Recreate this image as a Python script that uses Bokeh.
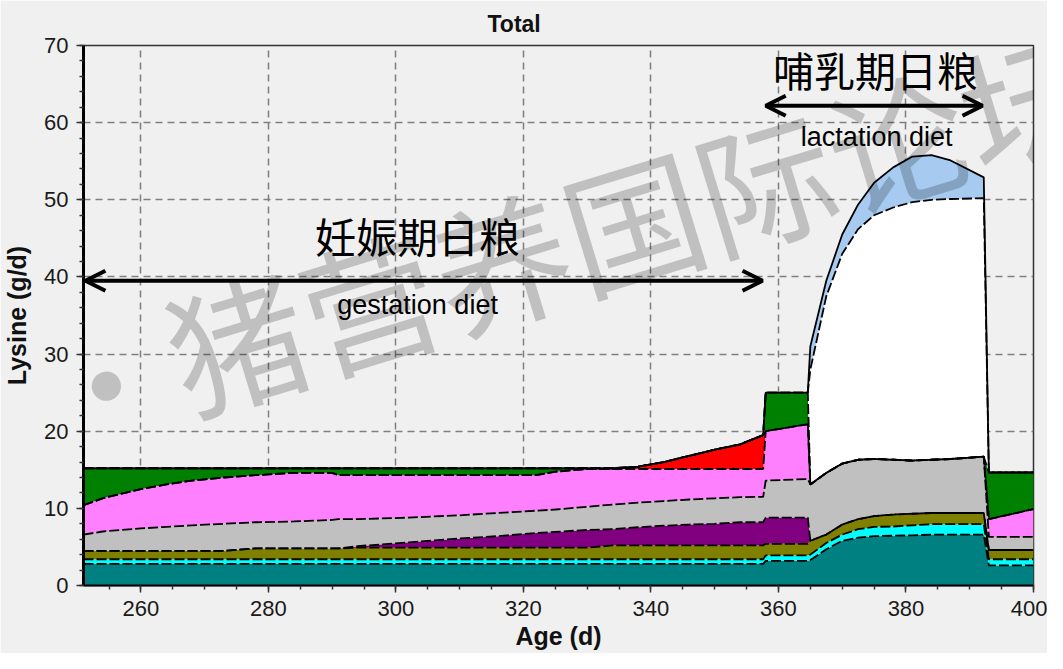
import numpy as np
from bokeh.plotting import figure
from bokeh.models import Range1d, SingleIntervalTicker, Arrow, OpenHead, Label, ColumnDataSource
from bokeh.embed import file_html
from bokeh.resources import INLINE

# ---------------- data ----------------
age = [251, 254, 257, 260, 264, 268, 273, 278, 284, 290, 291, 294, 302, 310, 316, 322, 325, 330,
       334, 338, 342, 346, 350, 354, 357.6, 358.0, 364.6, 365.0, 367.5, 370, 372.5, 375, 378,
       381, 384, 387, 392.2, 393.0, 400]

# stacked components of lysine requirement (g/d), bottom to top
teal_part = [2.8] * 25 + [3.2, 3.2, 3.3, 4.7, 5.8, 6.2, 6.4, 6.45, 6.5, 6.6, 6.6, 6.6, 2.6, 2.6]
cyan_part = [0.6] * 25 + [0.7, 0.7, 0.7, 0.8, 0.8, 1.1, 1.2, 1.2, 1.3, 1.35, 1.35, 1.35, 0.8, 0.8]
olive_part = [1.1] * 7 + [1.4] * 4 + [1.5] * 7 + [1.8] * 7 + \
    [1.5, 1.5, 1.8, 1.1, 1.3, 1.3, 1.4, 1.55, 1.5, 1.45, 1.45, 1.45, 1.2, 1.2]
purple_part = [0] * 11 + [0.2, 0.7, 1.2, 1.5, 1.9, 2.05, 2.3, 2.1, 2.35, 2.55, 2.7, 2.8, 3.0, 3.0,
                          3.4, 3.4] + [0] * 12
gray_part = [2.1, 2.5, 2.7, 2.9, 3.1, 3.3, 3.5, 3.4, 3.5, 3.7, 3.8, 3.5, 3.2, 3.0, 3.0, 2.9, 2.9,
             3.0, 3.2, 3.2, 3.2, 3.25, 3.3, 3.25, 3.3, 4.8, 5.0, 7.3, 8.0, 7.9, 7.7, 7.4, 7.1,
             6.9, 6.9, 7.0, 7.3, 1.7, 1.7]
pink_part = [3.8, 4.3, 4.7, 5.1, 5.5, 5.8, 6.0, 6.1, 6.3, 6.1, 5.7, 5.7, 5.5, 5.2, 4.9, 4.6, 4.9,
             4.9, 4.6, 4.35, 4.15, 3.95, 3.8, 3.65, 3.6, 6.4, 7.1] + [0] * 10 + [2.3, 3.6]
red_part = [0] * 19 + [0.3, 0.9, 1.7, 2.5, 3.2, 4.4] + [0] * 14
green_part = [4.8, 3.9, 3.3, 2.7, 2.1, 1.6, 1.2, 0.9, 0.6, 0.6, 0.9, 0.9, 0.9, 0.9, 0.9, 0.9, 0.45,
              0.1, 0.1, 0, 0, 0, 0, 0, 0, 5.0, 4.1] + [0] * 10 + [6.05, 4.75]
white_part = [0] * 27 + [14.9, 22.9, 27.2, 29.9, 31.6, 32.7, 33.5, 33.7, 33.7, 33.5, 0, 0]
blue_part = [0] * 27 + [3.0, 2.0, 2.5, 3.2, 4.2, 5.2, 5.9, 5.8, 5.0, 2.7, 0, 0]

layer_names = ["teal", "cyan", "olive", "purple", "gray", "pink", "red", "green", "white", "blue"]
layer_values = [teal_part, cyan_part, olive_part, purple_part, gray_part, pink_part,
                red_part, green_part, white_part, blue_part]
layer_colors = ["#008080", "#00ffff", "#808000", "#800080", "#c0c0c0", "#ff80ff",
                "#ff0000", "#008000", "#ffffff", "#a6caf0"]

x_ticks_interval = 20
y_ticks_interval = 10

# texts
title_text = "Total"
gest_cn, gest_en = "妊娠期日粮", "gestation diet"
lact_cn, lact_en = "哺乳期日粮", "lactation diet"
watermark = "国·猪营养国际论坛"

# ---------------- figure ----------------
p = figure(width=1047, height=653, x_range=Range1d(251, 400), y_range=Range1d(0, 70),
           output_backend="svg", toolbar_location=None, title=title_text,
           min_border_left=83, min_border_right=14, min_border_top=45, min_border_bottom=68,
           background_fill_color="#f0f0f0", border_fill_color="#f0f0f0")

p.title.align = "left"
p.title.offset = 404
p.title.vertical_align = "bottom"
if "standoff" in p.title.properties():
    p.title.standoff = 17
p.title.text_font = "Liberation Sans"
p.title.text_font_size = "23px"
p.title.text_font_style = "bold"
p.title.text_color = "#111111"

data = {"age": age}
for n, v in zip(layer_names, layer_values):
    data[n] = v
source = ColumnDataSource(data)

p.varea_stack(stackers=layer_names, x="age", color=layer_colors, source=source)

tops = np.cumsum(np.array(layer_values, dtype=float), axis=0)
for i, t in enumerate(tops):
    p.line(age, t, line_color="black", line_width=1.8,
           line_dash="solid" if i == len(tops) - 1 else "10 3")

# axes
xt = SingleIntervalTicker(interval=x_ticks_interval, num_minor_ticks=4)
yt = SingleIntervalTicker(interval=y_ticks_interval, num_minor_ticks=5)
p.xaxis.ticker = xt
p.yaxis.ticker = yt
p.xgrid.ticker = xt
p.ygrid.ticker = yt
for g in (p.xgrid, p.ygrid):
    g.grid_line_color = "#7f7f7f"
    g.grid_line_width = 1.5
    g.grid_line_dash = "7 5"

p.xaxis.axis_label = "Age (d)"
p.yaxis.axis_label = "Lysine (g/d)"
for ax in (p.xaxis, p.yaxis):
    ax.axis_label_text_font = "Liberation Sans"
    ax.axis_label_text_font_size = "25px"
    ax.axis_label_text_font_style = "bold"
    ax.axis_label_text_color = "#111111"
    ax.major_label_text_font = "Liberation Sans"
    ax.major_label_text_font_size = "22px"
    ax.major_label_text_color = "#1a1a1a"
    ax.major_tick_in = 0
    ax.major_tick_out = 7
    ax.minor_tick_in = 0
    ax.minor_tick_out = 4
    ax.major_tick_line_color = "#333333"
    ax.minor_tick_line_color = "#333333"
    ax.major_tick_line_width = 1.5
    ax.minor_tick_line_width = 1.5
    ax.axis_line_color = "black"
p.yaxis.axis_line_width = 3
p.xaxis.axis_line_width = 2
p.yaxis.major_label_standoff = 8
p.xaxis.major_label_standoff = 8
p.yaxis.axis_label_standoff = 10
p.xaxis.axis_label_standoff = 3

p.outline_line_color = "#333333"
p.outline_line_width = 1.5

# annotations
p.add_layout(Arrow(start=OpenHead(size=20, line_width=4, line_color="black"),
                   end=OpenHead(size=20, line_width=4, line_color="black"),
                   x_start=251.3, y_start=39.5, x_end=357.5, y_end=39.5,
                   line_width=4, line_color="black"))
p.add_layout(Arrow(start=OpenHead(size=20, line_width=4, line_color="black"),
                   end=OpenHead(size=20, line_width=4, line_color="black"),
                   x_start=358.0, y_start=62.2, x_end=392.0, y_end=62.2,
                   line_width=4, line_color="black"))

p.add_layout(Label(x=303.4, y=45.4, text=gest_cn, text_align="center", text_baseline="middle",
                   text_font="Noto Sans CJK SC", text_font_size="41px", text_color="black"))
p.add_layout(Label(x=303.4, y=36.4, text=gest_en, text_align="center", text_baseline="middle",
                   text_font="Liberation Sans", text_font_size="27px", text_color="black"))
p.add_layout(Label(x=375.2, y=66.9, text=lact_cn, text_align="center", text_baseline="middle",
                   text_font="Noto Sans CJK SC", text_font_size="41px", text_color="black"))
p.add_layout(Label(x=375.4, y=58.2, text=lact_en, text_align="center", text_baseline="middle",
                   text_font="Liberation Sans", text_font_size="27px", text_color="black"))

p.add_layout(Label(x=409.5, y=66.0, text=watermark, text_align="right", text_baseline="middle",
                   angle=np.deg2rad(17), text_font="Noto Sans CJK SC", text_font_size="138px",
                   text_color="black", text_alpha=0.2))

open("out.html", "w").write(file_html(p, INLINE))
